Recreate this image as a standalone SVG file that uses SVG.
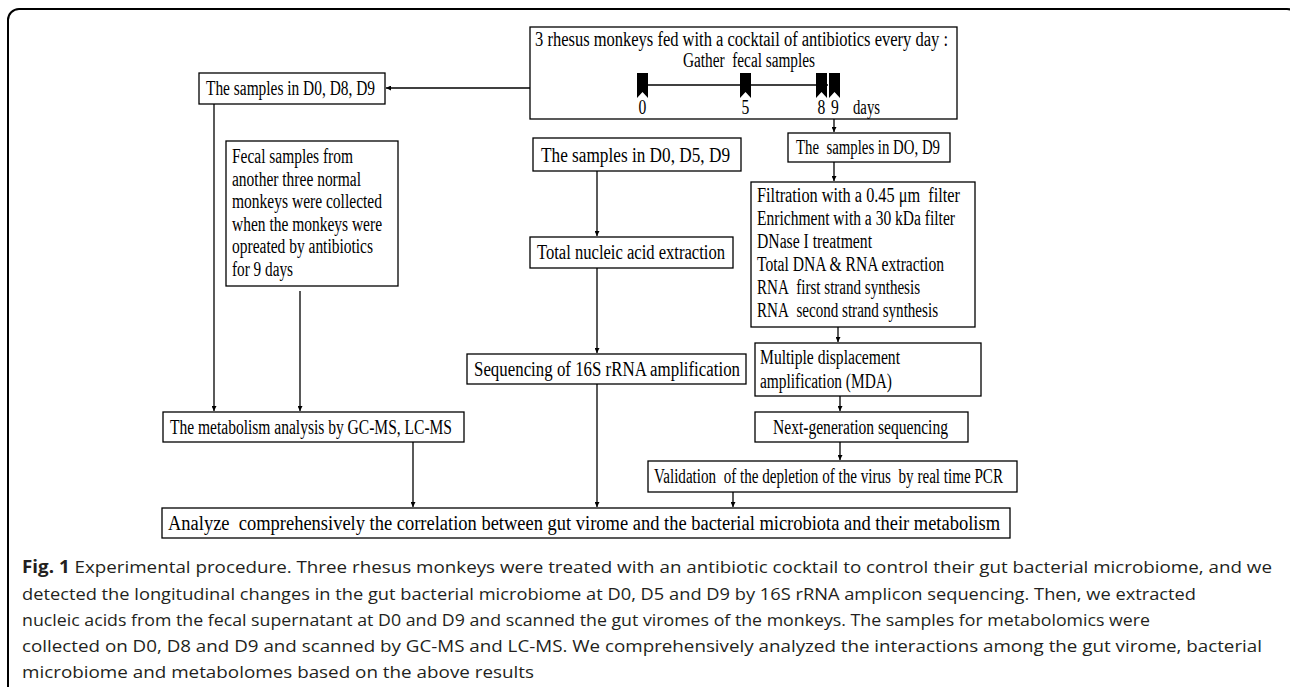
<svg xmlns="http://www.w3.org/2000/svg" width="1290" height="687" viewBox="0 0 1290 687">
<style>
.box{fill:#fff;stroke:#000;stroke-width:1.3}
.t{font-family:"Liberation Serif","Times New Roman",serif;font-size:20px;fill:#000}
.c{font-family:"Open Sans","Noto Sans",sans-serif;font-size:17px;fill:#231f20}
.ln{stroke:#000;stroke-width:1.3;fill:none}
.ar{stroke:#000;stroke-width:1.3;fill:none;marker-end:url(#ah)}
</style>
<defs>
<marker id="ah" viewBox="0 0 8 8" refX="8" refY="4" markerWidth="5" markerHeight="5" markerUnits="userSpaceOnUse" orient="auto"><path d="M0,0 L8,4 L0,8 z" fill="#000"/></marker>
</defs>
<rect x="8" y="9" width="1290" height="720" rx="11" fill="none" stroke="#000" stroke-width="2"/>

<g id="top">
<rect class="box" x="530" y="27" width="427" height="92"/>
<text class="t" x="535" y="46" textLength="413" lengthAdjust="spacingAndGlyphs">3 rhesus monkeys fed with a cocktail of antibiotics every day&#160;:</text>
<text class="t" x="683" y="67" textLength="132" lengthAdjust="spacingAndGlyphs">Gather&#160; fecal samples</text>
<line class="ln" x1="648" y1="85" x2="828" y2="85"/>
<path d="M637,73h11v25l-5.5,-6l-5.5,6z M740,73h11v25l-5.5,-6l-5.5,6z M816,73h11v25l-5.5,-6l-5.5,6z M829,73h11v25l-5.5,-6l-5.5,6z" fill="#000"/>
<text class="t" text-anchor="middle" transform="translate(642.5,114) scale(0.78,1)">0</text>
<text class="t" text-anchor="middle" transform="translate(745.5,114) scale(0.78,1)">5</text>
<text class="t" text-anchor="middle" transform="translate(821.5,114) scale(0.78,1)">8</text>
<text class="t" text-anchor="middle" transform="translate(835,114) scale(0.78,1)">9</text>
<text class="t" x="853" y="114" textLength="27" lengthAdjust="spacingAndGlyphs">days</text>
</g>

<g id="s089">
<rect class="box" x="199" y="73" width="186" height="31"/>
<text class="t" x="206" y="95" textLength="169" lengthAdjust="spacingAndGlyphs">The samples in D0, D8, D9</text>
</g>

<g id="fecal">
<rect class="box" x="226" y="141" width="172" height="145"/>
<text class="t" x="232" y="163" textLength="121" lengthAdjust="spacingAndGlyphs">Fecal samples from</text>
<text class="t" x="232" y="186" textLength="129" lengthAdjust="spacingAndGlyphs">another three normal</text>
<text class="t" x="232" y="208" textLength="150" lengthAdjust="spacingAndGlyphs">monkeys were collected</text>
<text class="t" x="232" y="231" textLength="150" lengthAdjust="spacingAndGlyphs">when the monkeys were</text>
<text class="t" x="232" y="253" textLength="141" lengthAdjust="spacingAndGlyphs">opreated by antibiotics</text>
<text class="t" x="232" y="276" textLength="61" lengthAdjust="spacingAndGlyphs">for 9 days</text>
</g>

<g id="s059">
<rect class="box" x="533" y="138" width="208" height="33"/>
<text class="t" x="541" y="162" textLength="189" lengthAdjust="spacingAndGlyphs">The samples in D0, D5, D9</text>
</g>

<g id="nucleic">
<rect class="box" x="530" y="237" width="203" height="31"/>
<text class="t" x="537" y="259" textLength="188" lengthAdjust="spacingAndGlyphs">Total nucleic acid extraction</text>
</g>

<g id="seq16s">
<rect class="box" x="467" y="354" width="279" height="30"/>
<text class="t" x="474" y="376" textLength="266" lengthAdjust="spacingAndGlyphs">Sequencing of 16S rRNA amplification</text>
</g>

<g id="metab">
<rect class="box" x="163" y="412" width="301" height="30"/>
<text class="t" x="170" y="434" textLength="282" lengthAdjust="spacingAndGlyphs">The metabolism analysis by GC-MS, LC-MS</text>
</g>

<g id="analyze">
<rect class="box" x="162" y="508" width="848" height="30"/>
<text class="t" x="168" y="530" textLength="832" lengthAdjust="spacingAndGlyphs">Analyze&#160; comprehensively the correlation between gut virome and the bacterial microbiota and their metabolism</text>
</g>

<g id="s09">
<rect class="box" x="788" y="133" width="162" height="29"/>
<text class="t" x="796" y="154" textLength="144" lengthAdjust="spacingAndGlyphs">The&#160; samples in DO, D9</text>
</g>

<g id="filtration">
<rect class="box" x="751" y="182" width="224" height="145"/>
<text class="t" x="757" y="202" textLength="203" lengthAdjust="spacingAndGlyphs">Filtration with a 0.45 μm&#160; filter</text>
<text class="t" x="757" y="225" textLength="198" lengthAdjust="spacingAndGlyphs">Enrichment with a 30 kDa filter</text>
<text class="t" x="757" y="248" textLength="115" lengthAdjust="spacingAndGlyphs">DNase I treatment</text>
<text class="t" x="757" y="271" textLength="187" lengthAdjust="spacingAndGlyphs">Total DNA &amp; RNA extraction</text>
<text class="t" x="757" y="294" textLength="163" lengthAdjust="spacingAndGlyphs">RNA&#160; first strand synthesis</text>
<text class="t" x="757" y="317" textLength="181" lengthAdjust="spacingAndGlyphs">RNA&#160; second strand synthesis</text>
</g>

<g id="mda">
<rect class="box" x="755" y="343" width="226" height="53"/>
<text class="t" x="760" y="364" textLength="140" lengthAdjust="spacingAndGlyphs">Multiple displacement</text>
<text class="t" x="760" y="388" textLength="132" lengthAdjust="spacingAndGlyphs">amplification (MDA)</text>
</g>

<g id="ngs">
<rect class="box" x="755" y="412" width="213" height="30"/>
<text class="t" x="773" y="434" textLength="175" lengthAdjust="spacingAndGlyphs">Next-generation sequencing</text>
</g>

<g id="valid">
<rect class="box" x="648" y="461" width="369" height="31"/>
<text class="t" x="654" y="483" textLength="349" lengthAdjust="spacingAndGlyphs">Validation&#160; of the depletion of the virus&#160; by real time PCR</text>
</g>

<g id="connectors">
<line class="ar" x1="530" y1="88" x2="386" y2="88"/>
<line class="ar" x1="214" y1="104" x2="214" y2="411"/>
<line class="ar" x1="300" y1="291" x2="300" y2="411"/>
<line class="ar" x1="597" y1="171" x2="597" y2="236"/>
<line class="ar" x1="597" y1="268" x2="597" y2="353"/>
<line class="ar" x1="597" y1="384" x2="597" y2="507"/>
<line class="ar" x1="413" y1="442" x2="413" y2="507"/>
<line class="ar" x1="834" y1="119" x2="834" y2="132"/>
<line class="ar" x1="834" y1="162" x2="834" y2="181"/>
<line class="ar" x1="838" y1="327" x2="838" y2="342"/>
<line class="ar" x1="840" y1="396" x2="840" y2="411"/>
<line class="ar" x1="840" y1="442" x2="840" y2="460"/>
<line class="ar" x1="733" y1="492" x2="733" y2="507"/>
</g>

<g id="caption">
<text class="c" x="22" y="573" textLength="1250" lengthAdjust="spacingAndGlyphs"><tspan font-weight="bold">Fig. 1</tspan> Experimental procedure. Three rhesus monkeys were treated with an antibiotic cocktail to control their gut bacterial microbiome, and we</text>
<text class="c" x="22" y="600" textLength="1174" lengthAdjust="spacingAndGlyphs">detected the longitudinal changes in the gut bacterial microbiome at D0, D5 and D9 by 16S rRNA amplicon sequencing. Then, we extracted</text>
<text class="c" x="22" y="626" textLength="1128" lengthAdjust="spacingAndGlyphs">nucleic acids from the fecal supernatant at D0 and D9 and scanned the gut viromes of the monkeys. The samples for metabolomics were</text>
<text class="c" x="22" y="652" textLength="1240" lengthAdjust="spacingAndGlyphs">collected on D0, D8 and D9 and scanned by GC-MS and LC-MS. We comprehensively analyzed the interactions among the gut virome, bacterial</text>
<text class="c" x="22" y="678" textLength="512" lengthAdjust="spacingAndGlyphs">microbiome and metabolomes based on the above results</text>
</g>
</svg>
